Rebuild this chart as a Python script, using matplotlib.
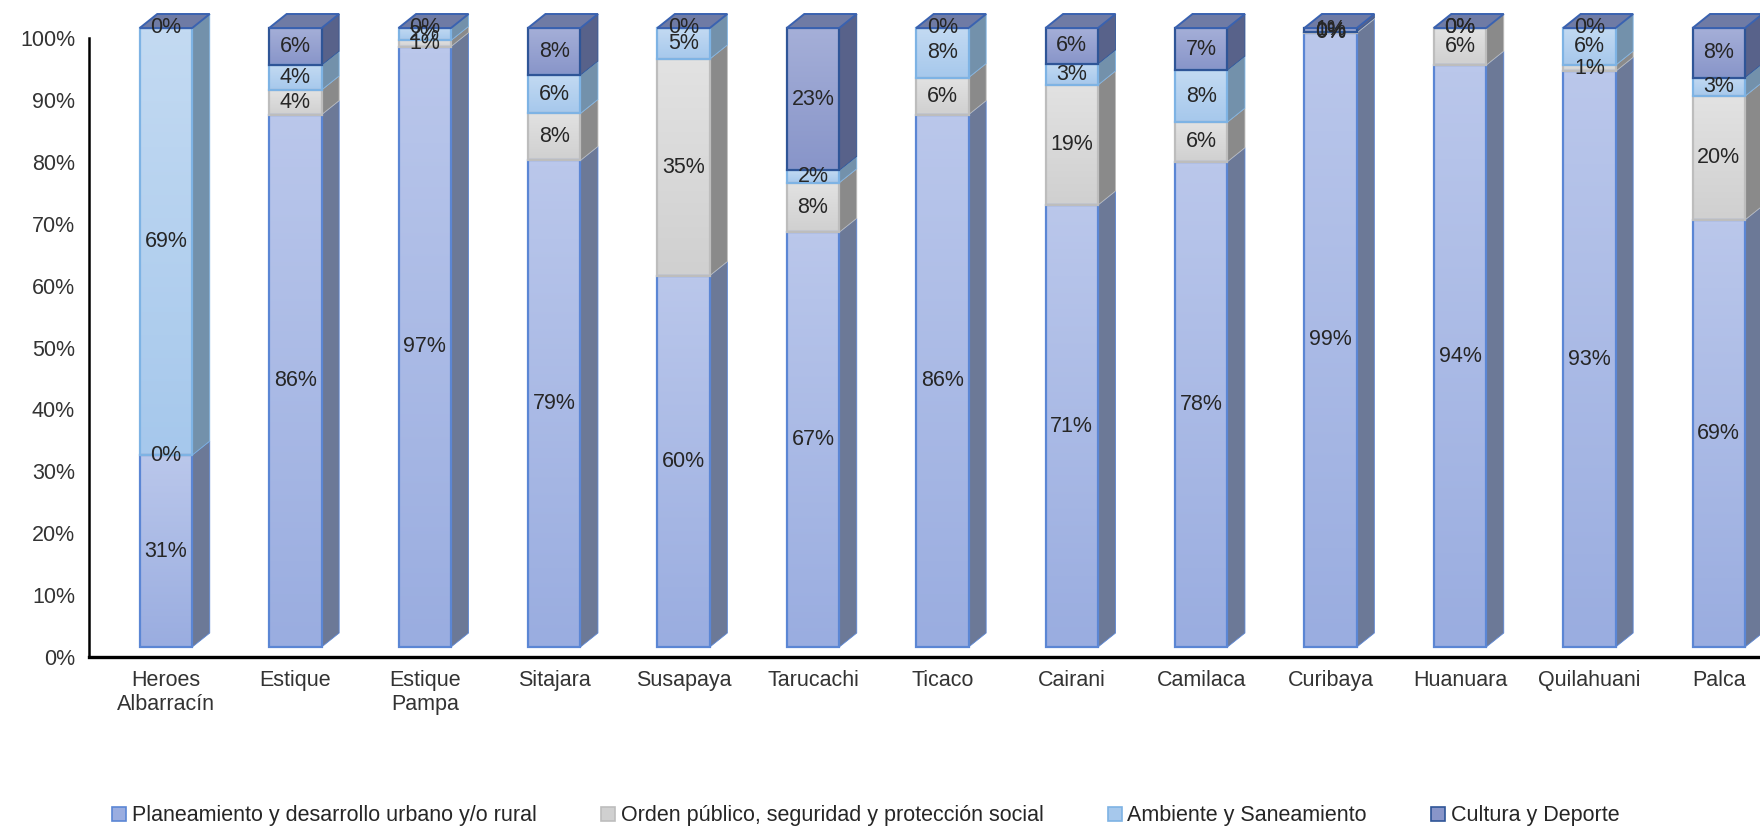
import numpy as np
import matplotlib.pyplot as plt
from matplotlib.patches import Polygon, Patch
from matplotlib.colors import LinearSegmentedColormap
from matplotlib.ticker import FuncFormatter

plt.rcParams['font.family'] = ['Liberation Sans', 'DejaVu Sans']

categories = ["Heroes\nAlbarracín", "Estique", "Estique\nPampa", "Sitajara", "Susapaya",
              "Tarucachi", "Ticaco", "Cairani", "Camilaca", "Curibaya", "Huanuara",
              "Quilahuani", "Palca"]
series_names = ["Planeamiento y desarrollo urbano y/o rural",
                "Orden público, seguridad y protección social",
                "Ambiente y Saneamiento",
                "Cultura y Deporte"]

# shares in percent
planeamiento = [31, 86, 97, 78.6, 60, 67, 86, 71.4, 78.4, 99.2, 94, 93, 69]
orden = [0, 4, 1, 7.6, 35, 8, 6, 19.4, 6.4, 0.2, 6, 1, 20]
ambiente = [69, 4, 2, 6.2, 5, 2, 8, 3.4, 8.4, 0, 0, 6, 3]
cultura = [0, 6, 0, 7.6, 0, 23, 0, 5.8, 6.8, 0.6, 0, 0, 8]

# (light top, dark bottom, edge, side face)
styles = [
    ("#BAC7EB", "#9AADE0", "#5B86D4", "#6C7997"),
    ("#E2E2E2", "#D0D0D0", "#BDBDBD", "#8A8A8A"),
    ("#C3DAF2", "#A6C8EC", "#7EB3E4", "#7391AB"),
    ("#A5AFD8", "#8895C9", "#2F5597", "#58628A"),
]
top_face = "#6F7BA5"
FS = 15.5

W, H = 1760, 830
fig = plt.figure(figsize=(W / 100, H / 100), dpi=100)
ax_left, ax_bottom_px = 89, 657
ax = fig.add_axes([ax_left / W, (H - ax_bottom_px) / H, (W - ax_left) / W, (ax_bottom_px - 8) / H])

px_x = 129.4   # pixels per category
px_y = 6.19    # pixels per percent
x = np.arange(len(categories))
width = 52.5 / px_x
dx = 17.5 / px_x
dy = 14 / px_y
base = 10 / px_y

ax.set_xlim(-(166 - ax_left) / px_x, -(166 - ax_left) / px_x + (W - ax_left) / px_x)
ax.set_ylim(0, (ax_bottom_px - 8) / px_y)

data = [planeamiento, orden, ambiente, cultura]
bottom = np.full(len(categories), base)
for vals, (light, dark, edge, side) in zip(data, styles):
    vals = np.array(vals, dtype=float)
    bars = ax.bar(x, vals, width=width, bottom=bottom, facecolor="none",
                  edgecolor=edge, linewidth=1.6, zorder=4)
    cmap = LinearSegmentedColormap.from_list("g", [dark, light])
    grad = np.linspace(0, 1, 64).reshape(-1, 1)
    for b, v, b0 in zip(bars, vals, bottom):
        if v <= 0:
            continue
        x0, x1 = b.get_x(), b.get_x() + b.get_width()
        ax.imshow(grad, extent=[x0, x1, b0, b0 + v], origin="lower", cmap=cmap,
                  aspect="auto", zorder=3, interpolation="bilinear")
        ax.add_patch(Polygon([(x1, b0), (x1 + dx, b0 + dy), (x1 + dx, b0 + v + dy), (x1, b0 + v)],
                             closed=True, facecolor=side, edgecolor=edge, linewidth=0.6, zorder=3))
        ax.text(b.get_x() + width / 2, b0 + v / 2, f"{round(v):.0f}%", ha="center", va="center",
                fontsize=FS, color="#262626", zorder=6)
    for xi, v, b0 in zip(x, vals, bottom):
        if v <= 0:
            ax.text(xi, b0, "0%", ha="center", va="center", fontsize=FS, color="#262626", zorder=6)
    bottom = bottom + vals

# top faces
for xi, t in zip(x, bottom):
    x0, x1 = xi - width / 2, xi + width / 2
    ax.add_patch(Polygon([(x0, t), (x0 + dx, t + dy), (x1 + dx, t + dy), (x1, t)],
                         closed=True, facecolor=top_face, edgecolor="#3A62B0", linewidth=1.4, zorder=5))

for s in ["top", "right"]:
    ax.spines[s].set_visible(False)
ax.spines["left"].set_bounds(0, 100)
ax.spines["left"].set_linewidth(1.8)
ax.spines["bottom"].set_linewidth(2.4)
ax.set_yticks(np.arange(0, 101, 10))
ax.yaxis.set_major_formatter(FuncFormatter(lambda v, p: f"{v:.0f}%"))
ax.set_xticks(x)
ax.set_xticklabels(categories)
ax.tick_params(axis="y", length=0, pad=10, labelsize=FS, labelcolor="#333333")
ax.tick_params(axis="x", length=0, pad=9, labelsize=FS, labelcolor="#333333")

handles = [Patch(facecolor=s[1], edgecolor=s[2], linewidth=1.2) for s in styles]
fig.legend(handles, series_names, loc="center", bbox_to_anchor=(0.492, 0.017), ncol=4,
           frameon=False, fontsize=FS, handlelength=0.65, handleheight=0.65,
           handletextpad=0.25, columnspacing=3.0, labelcolor="#262626")

fig.savefig("out.png", dpi=100)
